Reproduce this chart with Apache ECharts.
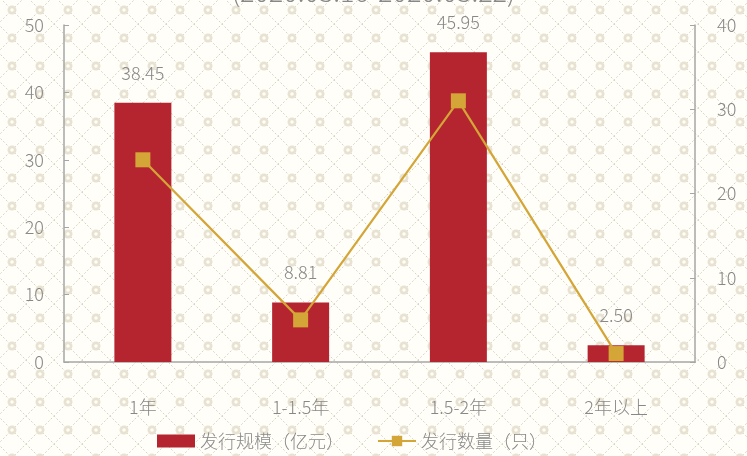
<!DOCTYPE html>
<html><head><meta charset="utf-8">
<script src="https://cdn.jsdelivr.net/npm/echarts@6/dist/echarts.min.js"></script>
<style>html,body{margin:0;padding:0;background:#fffef8;}#c{width:747px;height:456px;}</style>
</head><body><div id="c"></div>
<script>
const categories = ['1年', '1-1.5年', '1.5-2年', '2年以上'];
const scaleValues = [38.45, 8.81, 45.95, 2.50];
const countValues = [24, 5, 31, 1];
const seriesNames = ['发行规模（亿元）', '发行数量（只）'];
const titleText = '(2020.03.16-2020.03.22)';

function makePattern() {
  const cv = document.createElement('canvas');
  cv.width = 28; cv.height = 28;
  const g = cv.getContext('2d');
  g.fillStyle = '#fffef8';
  g.fillRect(0, 0, 28, 28);
  g.strokeStyle = '#d8d3c5';
  g.lineWidth = 1;
  g.setLineDash([2, 2]);
  for (let i = -2; i <= 2; i++) {
    g.beginPath(); g.moveTo(12 + 28 * i - 40, 10 - 40); g.lineTo(12 + 28 * i + 40, 10 + 40); g.stroke();
    g.beginPath(); g.moveTo(12 + 28 * i - 40, 10 + 40); g.lineTo(12 + 28 * i + 40, 10 - 40); g.stroke();
  }
  g.setLineDash([]);
  g.fillStyle = '#e8e2d2';
  g.beginPath(); g.arc(12, 10, 4.5, 0, Math.PI * 2); g.fill();
  g.fillStyle = '#fffef8';
  g.beginPath(); g.arc(12, 10, 1.8, 0, Math.PI * 2); g.fill();
  return cv;
}

const font = "'Noto Sans CJK SC', 'Noto Sans', sans-serif";
const chart = echarts.init(document.getElementById('c'));
chart.setOption({
  backgroundColor: { image: makePattern(), repeat: 'repeat' },
  textStyle: { fontFamily: font },
  graphic: [{
    type: 'text', left: 'center', top: -22,
    style: { text: titleText, fontSize: 27, fill: '#888', fontFamily: font, fontWeight: 300 }
  }],
  legend: {
    left: 152, bottom: 1,
    itemGap: 33,
    itemWidth: 38, itemHeight: 13,
    textStyle: { fontSize: 18, color: '#888', fontWeight: 300 },
    data: [
      { name: seriesNames[0], icon: 'rect' },
      { name: seriesNames[1] }
    ]
  },
  grid: { left: 64, right: 52, top: 25, bottom: 94 },
  xAxis: {
    type: 'category', data: categories,
    axisLine: { lineStyle: { color: '#a6a6a6', width: 1.5 } },
    axisTick: { show: false },
    axisLabel: { margin: 36, fontSize: 18, color: '#888', fontWeight: 300 }
  },
  yAxis: [{
    type: 'value', min: 0, max: 50, interval: 10,
    splitLine: { show: false },
    axisLine: { show: true, lineStyle: { color: '#a6a6a6', width: 1.5 } },
    axisTick: { show: true, inside: true, length: 5, lineStyle: { color: '#a6a6a6' } },
    axisLabel: { margin: 20, fontSize: 18, color: '#888', fontWeight: 300 }
  }, {
    type: 'value', min: 0, max: 40, interval: 10,
    splitLine: { show: false },
    axisLine: { show: true, lineStyle: { color: '#a6a6a6', width: 1.5 } },
    axisTick: { show: true, inside: true, length: 5, lineStyle: { color: '#a6a6a6' } },
    axisLabel: { margin: 22, fontSize: 18, color: '#888', fontWeight: 300 }
  }],
  series: [{
    name: seriesNames[0], type: 'bar', data: scaleValues, barWidth: 57,
    itemStyle: { color: '#b5252f' },
    label: {
      show: true, position: 'top', distance: 21, fontSize: 18, color: '#888', fontWeight: 300,
      formatter: p => p.value.toFixed(2)
    }
  }, {
    name: seriesNames[1], type: 'line', yAxisIndex: 1, data: countValues,
    symbol: 'rect', symbolSize: 15,
    lineStyle: { color: '#d4a537', width: 2.2 },
    itemStyle: { color: '#d4a537' }
  }]
});
</script></body></html>
